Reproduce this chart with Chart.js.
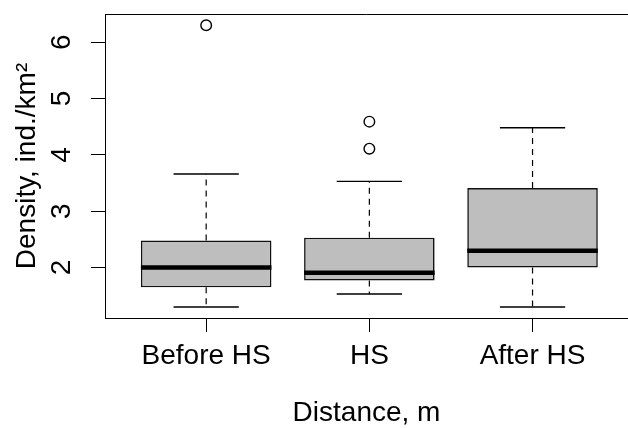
<!DOCTYPE html>
<html><head><meta charset="utf-8">
<script src="https://cdn.jsdelivr.net/npm/chart.js@4/dist/chart.umd.min.js"></script>
<style>html,body{margin:0;padding:0;background:#fff}#wrap{width:628px;height:428px}</style>
</head><body><div id="wrap"><canvas id="c" width="628" height="428"></canvas></div>
<script>
const categories = ['Before HS', 'HS', 'After HS'];
const whiskerLow = [1.30, 1.53, 1.30];
const q1 = [1.65, 1.77, 2.00];
const median = [2.00, 1.91, 2.30];
const q3 = [2.48, 2.53, 3.41];
const whiskerHigh = [3.66, 3.53, 4.48];
const outliers = [[6.30], [4.11, 4.59], []];
const yTicks = [2, 3, 4, 5, 6];
const xTitle = 'Distance, m';
const yTitle = 'Density, ind./km\u00B2';

const FONT = "'Liberation Sans', Arial, Helvetica, sans-serif";

const boxParts = {
  id: 'boxParts',
  afterDatasetsDraw(chart) {
    const {ctx, chartArea, scales: {x, y}} = chart;
    ctx.save();
    ctx.strokeStyle = '#000';
    ctx.lineWidth = 1;
    ctx.beginPath();
    ctx.moveTo(chartArea.left, Math.round(chartArea.top) + 0.5);
    ctx.lineTo(chartArea.right, Math.round(chartArea.top) + 0.5);
    ctx.stroke();
    categories.forEach((c, i) => {
      const cx = x.getPixelForValue(i + 1);
      const capHalf = x.getPixelForValue(i + 1.2) - cx;
      const boxHalf = x.getPixelForValue(i + 1.4) - cx;
      ctx.lineWidth = 1.2;
      ctx.setLineDash([6, 5]);
      ctx.beginPath();
      ctx.moveTo(cx, y.getPixelForValue(q3[i]));
      ctx.lineTo(cx, y.getPixelForValue(whiskerHigh[i]));
      ctx.moveTo(cx, y.getPixelForValue(q1[i]));
      ctx.lineTo(cx, y.getPixelForValue(whiskerLow[i]));
      ctx.stroke();
      ctx.setLineDash([]);
      ctx.lineWidth = 1.4;
      ctx.beginPath();
      ctx.moveTo(cx - capHalf, y.getPixelForValue(whiskerHigh[i]));
      ctx.lineTo(cx + capHalf, y.getPixelForValue(whiskerHigh[i]));
      ctx.moveTo(cx - capHalf, y.getPixelForValue(whiskerLow[i]));
      ctx.lineTo(cx + capHalf, y.getPixelForValue(whiskerLow[i]));
      ctx.stroke();
      ctx.lineWidth = 4.5;
      ctx.beginPath();
      ctx.moveTo(cx - boxHalf, y.getPixelForValue(median[i]));
      ctx.lineTo(cx + boxHalf, y.getPixelForValue(median[i]));
      ctx.stroke();
    });
    ctx.restore();
  }
};

const tickFont = {family: FONT, size: 28, lineHeight: 1};

new Chart(document.getElementById('c'), {
  type: 'bar',
  data: {
    datasets: [
      {
        type: 'bar',
        data: categories.map((c, i) => ({x: i + 1, y: [q1[i], q3[i]]})),
        backgroundColor: '#BEBEBE',
        borderColor: '#111',
        borderWidth: 1.6,
        borderSkipped: false,
        categoryPercentage: 1,
        barPercentage: 0.8
      },
      {
        type: 'scatter',
        data: outliers.flatMap((arr, i) => arr.map(v => ({x: i + 1, y: v}))),
        pointRadius: 5.3,
        pointBorderWidth: 1.4,
        pointBackgroundColor: 'rgba(255,255,255,0)',
        pointBorderColor: '#000',
        showLine: false
      }
    ]
  },
  options: {
    responsive: false,
    animation: false,
    devicePixelRatio: 1,
    layout: {autoPadding: false, padding: {top: 14, left: 0, right: 0, bottom: 0}},
    plugins: {legend: {display: false}, tooltip: {enabled: false}},
    scales: {
      x: {
        type: 'linear',
        position: 'bottom',
        offset: false,
        min: 0.38,
        max: 3.585,
        afterBuildTicks(s) { s.ticks = categories.map((c, i) => ({value: i + 1})); },
        afterFit(s) { s.height = 110; s.paddingLeft = 0; s.paddingRight = 0; s.paddingTop = 0; s.paddingBottom = 0; },
        ticks: {
          callback: (v) => categories[Math.round(v) - 1],
          font: tickFont,
          color: '#000',
          padding: 10,
          autoSkip: false,
          maxRotation: 0,
          minRotation: 0
        },
        grid: {display: true, offset: false, drawOnChartArea: false, drawTicks: true, tickLength: 14, color: '#000', lineWidth: 1},
        border: {display: true, color: '#000', width: 1},
        title: {display: true, text: xTitle, font: tickFont, color: '#000', padding: {top: 0, bottom: 1}}
      },
      y: {
        type: 'linear',
        offset: false,
        min: 1.105,
        max: 6.50,
        afterBuildTicks(s) { s.ticks = yTicks.map(v => ({value: v})); },
        afterFit(s) { s.width = 105; s.paddingLeft = 0; s.paddingRight = 0; s.paddingTop = 0; s.paddingBottom = 0; },
        ticks: {
          font: tickFont,
          color: '#000',
          minRotation: 90,
          maxRotation: 90,
          crossAlign: 'center',
          padding: 21
        },
        grid: {display: true, offset: false, drawOnChartArea: false, drawTicks: true, tickLength: 14, color: '#000', lineWidth: 1},
        border: {display: true, color: '#000', width: 1},
        title: {display: true, text: yTitle, font: tickFont, color: '#000', padding: {top: 13, bottom: 0}}
      }
    }
  },
  plugins: [boxParts]
});
</script>
</body></html>
